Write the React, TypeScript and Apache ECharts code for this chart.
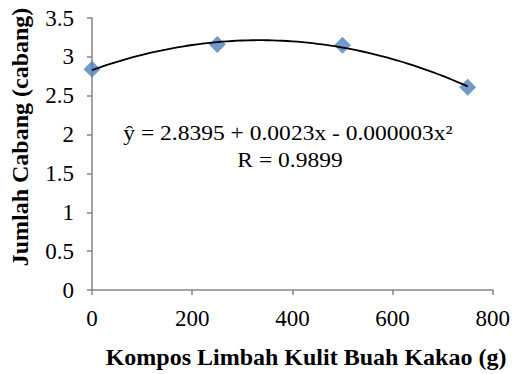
import React, { useEffect, useRef } from "react";
import * as echarts from "echarts";

const doses = [0, 250, 500, 750];
const branches = [2.84, 3.16, 3.15, 2.61];
const xTicks = [0, 200, 400, 600, 800];
const yTicks = [0, 0.5, 1, 1.5, 2, 2.5, 3, 3.5];
const equationText = "ŷ = 2.8395 + 0.0023x - 0.000003x²";
const rText = "R = 0.9899";
const xTitle = "Kompos Limbah Kulit Buah Kakao (g)";
const yTitle = "Jumlah Cabang (cabang)";

// least-squares quadratic fit of the data (trendline)
function fitQuadratic(xs: number[], ys: number[]) {
  const n = xs.length;
  const s = [0, 0, 0, 0, 0];
  const t = [0, 0, 0];
  for (let i = 0; i < n; i++) {
    const x = xs[i], y = ys[i];
    for (let k = 0; k < 5; k++) s[k] += Math.pow(x, k);
    for (let k = 0; k < 3; k++) t[k] += y * Math.pow(x, k);
  }
  const A = [
    [s[0], s[1], s[2], t[0]],
    [s[1], s[2], s[3], t[1]],
    [s[2], s[3], s[4], t[2]],
  ];
  for (let i = 0; i < 3; i++) {
    for (let j = i + 1; j < 3; j++) {
      const f = A[j][i] / A[i][i];
      for (let k = i; k < 4; k++) A[j][k] -= f * A[i][k];
    }
  }
  const c = [0, 0, 0];
  for (let i = 2; i >= 0; i--) {
    let v = A[i][3];
    for (let k = i + 1; k < 3; k++) v -= A[i][k] * c[k];
    c[i] = v / A[i][i];
  }
  return c;
}

export default function App() {
  const ref = useRef<HTMLDivElement>(null);
  useEffect(() => {
    if (!ref.current) return;
    const chart = echarts.init(ref.current, null, { renderer: "svg" });
    const c = fitQuadratic(doses, branches);
    const xMin = doses[0];
    const xMax = doses[doses.length - 1];
    const trend: number[][] = [];
    const steps = 75;
    for (let i = 0; i <= steps; i++) {
      const x = xMin + ((xMax - xMin) * i) / steps;
      trend.push([x, c[0] + c[1] * x + c[2] * x * x]);
    }
    const axisColor = "#868686";
    const font = "Liberation Serif";
    chart.setOption({
      animation: false,
      backgroundColor: "#ffffff",
      textStyle: { fontFamily: font },
      grid: { left: 92, right: 19, top: 18, bottom: 84 },
      xAxis: {
        type: "value",
        min: xTicks[0],
        max: xTicks[xTicks.length - 1],
        interval: 200,
        axisLine: { show: true, lineStyle: { color: axisColor, width: 1.5 } },
        axisTick: { show: true, inside: false, length: 5, lineStyle: { color: axisColor, width: 1.5 } },
        splitLine: { show: false },
        axisLabel: { color: "#000", fontFamily: font, fontSize: 23, margin: 17 },
      },
      yAxis: {
        type: "value",
        min: yTicks[0],
        max: yTicks[yTicks.length - 1],
        interval: 0.5,
        axisLine: { show: true, lineStyle: { color: axisColor, width: 1.5 } },
        axisTick: { show: true, inside: false, length: 5, lineStyle: { color: axisColor, width: 1.5 } },
        splitLine: { show: false },
        axisLabel: { color: "#000", fontFamily: font, fontSize: 23, margin: 18 },
      },
      series: [
        {
          type: "line",
          data: trend,
          showSymbol: false,
          symbol: "none",
          smooth: false,
          lineStyle: { color: "#000", width: 1.8 },
          z: 3,
        },
        {
          type: "scatter",
          data: doses.map((d, i) => [d, branches[i]]),
          symbol: "diamond",
          symbolSize: 17,
          itemStyle: { color: "#4F81BD" },
          z: 2,
        },
      ],
      graphic: [
        {
          type: "text",
          x: 288,
          y: 133,
          scaleX: 1.12,
          style: { text: equationText, fontFamily: font, fontSize: 21, fill: "#000", align: "center", verticalAlign: "middle" },
        },
        {
          type: "text",
          x: 290,
          y: 160,
          scaleX: 1.12,
          style: { text: rText, fontFamily: font, fontSize: 21, fill: "#000", align: "center", verticalAlign: "middle" },
        },
        {
          type: "text",
          x: 306,
          y: 357,
          style: { text: xTitle, fontFamily: font, fontSize: 24, fontWeight: "bold", fill: "#000", align: "center", verticalAlign: "middle" },
        },
        {
          type: "text",
          x: 20,
          y: 137,
          rotation: Math.PI / 2,
          style: { text: yTitle, fontFamily: font, fontSize: 24, fontWeight: "bold", fill: "#000", align: "center", verticalAlign: "middle" },
        },
      ],
    });
    return () => chart.dispose();
  }, []);
  return (
    <div
      ref={ref}
      style={{ position: "fixed", left: 0, top: 0, width: 513, height: 374, background: "#fff" }}
    />
  );
}
